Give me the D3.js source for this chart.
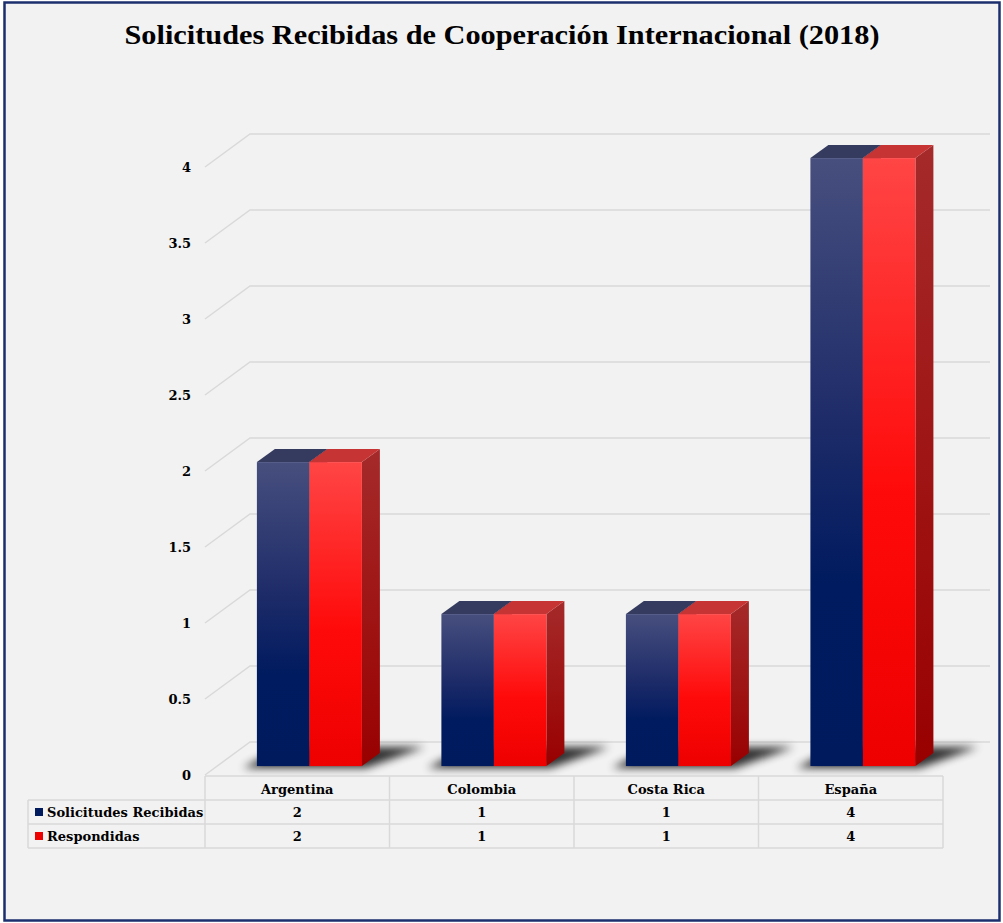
<!DOCTYPE html>
<html>
<head>
<meta charset="utf-8">
<script src="https://cdn.jsdelivr.net/npm/d3@7"></script>
<style>
  body { margin: 0; background: #ffffff; }
  svg { display: block; font-family: 'DejaVu Serif', 'Liberation Serif', serif; }
</style>
</head>
<body>
<div id="chart"></div>
<script>
const categories = ['Argentina', 'Colombia', 'Costa Rica', 'España'];
const solicitudes = [2, 1, 1, 4];
const respondidas = [2, 1, 1, 4];
const seriesNames = ['Solicitudes Recibidas', 'Respondidas'];
const yTicks = [0, 0.5, 1, 1.5, 2, 2.5, 3, 3.5, 4];
const title = 'Solicitudes Recibidas de Cooperación Internacional (2018)';

const W = 1003, H = 923;
const plot = {left: 205, right: 943, top: 167, bottom: 775};
const depth = {dx: 45, dy: -33};   // floor / wall depth
const barDepth = {t0: 0.27, t1: 0.67}; // bar position within depth
const barW = 52.5;

const svg = d3.select('#chart').append('svg')
  .attr('width', W).attr('height', H);

const defs = svg.append('defs');

const gBlue = defs.append('linearGradient').attr('id', 'gBlue')
  .attr('x1', 0).attr('y1', 0).attr('x2', 0).attr('y2', 1);
gBlue.append('stop').attr('offset', '0%').attr('stop-color', '#474f7e');
gBlue.append('stop').attr('offset', '45%').attr('stop-color', '#1c2a68');
gBlue.append('stop').attr('offset', '70%').attr('stop-color', '#001b5f');
gBlue.append('stop').attr('offset', '100%').attr('stop-color', '#001a5e');

const gRed = defs.append('linearGradient').attr('id', 'gRed')
  .attr('x1', 0).attr('y1', 0).attr('x2', 0).attr('y2', 1);
gRed.append('stop').attr('offset', '0%').attr('stop-color', '#ff4545');
gRed.append('stop').attr('offset', '55%').attr('stop-color', '#ff0a0a');
gRed.append('stop').attr('offset', '100%').attr('stop-color', '#ee0000');

const gRedSide = defs.append('linearGradient').attr('id', 'gRedSide')
  .attr('x1', 0).attr('y1', 0).attr('x2', 0).attr('y2', 1);
gRedSide.append('stop').attr('offset', '0%').attr('stop-color', '#a52a2a');
gRedSide.append('stop').attr('offset', '100%').attr('stop-color', '#990000');

defs.append('filter').attr('id', 'blur')
  .attr('x', '-50%').attr('y', '-50%').attr('width', '200%').attr('height', '200%')
  .append('feGaussianBlur').attr('stdDeviation', 4);

// background + border
svg.append('rect')
  .attr('x', 4.5).attr('y', 2.5).attr('width', 995).attr('height', 918)
  .attr('fill', '#f2f2f2').attr('stroke', '#1b2f6e').attr('stroke-width', 2.5);

// title
svg.append('text')
  .attr('x', 502).attr('y', 44)
  .attr('text-anchor', 'middle')
  .attr('textLength', 755).attr('lengthAdjust', 'spacingAndGlyphs')
  .style('font-family', "'Liberation Serif', serif")
  .style('font-size', '28px').style('font-weight', 'bold').style('fill', '#000')
  .text(title);

const x = d3.scaleBand().domain(categories).range([plot.left, plot.right]);
const y = d3.scaleLinear().domain([0, 4]).range([plot.bottom, plot.top]);

// gridlines (back wall + left diagonal)
const grid = svg.append('g').attr('stroke', '#d9d9d9').attr('stroke-width', 1.5).attr('fill', 'none');
yTicks.forEach((v) => {
  const fy = y(v);
  grid.append('path')
    .attr('d', `M${plot.left},${fy} L${plot.left + depth.dx},${fy + depth.dy} L${990},${fy + depth.dy}`);
});

// y axis labels
svg.append('g').selectAll('text').data(yTicks).join('text')
  .attr('x', 191).attr('y', (d) => y(d) + 5)
  .attr('text-anchor', 'end')
  .style('font-size', '13px').style('font-weight', 'bold')
  .text((d) => d);

// bars
const data = categories.map((c, i) => ({cat: c, vals: [solicitudes[i], respondidas[i]]}));
const sx0 = depth.dx * barDepth.t0, sy0 = depth.dy * barDepth.t0;
const bdx = depth.dx * (barDepth.t1 - barDepth.t0), bdy = depth.dy * (barDepth.t1 - barDepth.t0);

const bars = svg.append('g');
data.forEach((d) => {
  const cx = x(d.cat) + x.bandwidth() / 2 + sx0;
  const base = y(0) + sy0;
  const left = cx - barW;
  const right = cx + barW;
  // shadow on floor
  bars.append('path')
    .attr('d', `M${left - 14},${base + 2} L${right + 4},${base + 2} L${right + bdx + 45},${base + bdy - 6} L${left + bdx + 8},${base + bdy - 6} Z`)
    .attr('fill', '#000').attr('opacity', 0.8).attr('filter', 'url(#blur)');

  d.vals.forEach((v, j) => {
    const x0 = cx - barW + j * barW;
    const x1 = x0 + barW;
    const top = y(v) + sy0;
    const isRed = j === 1;
    // side face
    bars.append('path')
      .attr('d', `M${x1},${base} L${x1},${top} L${x1 + bdx},${top + bdy} L${x1 + bdx},${base + bdy} Z`)
      .attr('fill', isRed ? 'url(#gRedSide)' : '#1a2250');
    // top face
    bars.append('path')
      .attr('d', `M${x0},${top} L${x1},${top} L${x1 + bdx},${top + bdy} L${x0 + bdx},${top + bdy} Z`)
      .attr('fill', isRed ? '#c63434' : '#343b5e');
    // front face
    bars.append('rect')
      .attr('x', x0).attr('y', top).attr('width', barW).attr('height', base - top)
      .attr('fill', isRed ? 'url(#gRed)' : 'url(#gBlue)');
  });
});

// data table
const rowTop = 776, rowH = 24;
const tbl = svg.append('g').attr('stroke', '#d9d9d9').attr('stroke-width', 1.5).attr('fill', 'none');
const colEdges = categories.map((c) => x(c)).concat([plot.right]);
const legendLeft = 28;
tbl.append('line').attr('x1', plot.left).attr('x2', plot.right).attr('y1', rowTop).attr('y2', rowTop);
[1, 2, 3].forEach((r) => {
  tbl.append('line').attr('x1', legendLeft).attr('x2', plot.right)
    .attr('y1', rowTop + r * rowH).attr('y2', rowTop + r * rowH);
});
colEdges.forEach((cx) => {
  tbl.append('line').attr('x1', cx).attr('x2', cx).attr('y1', rowTop).attr('y2', rowTop + 3 * rowH);
});
tbl.append('line').attr('x1', legendLeft).attr('x2', legendLeft)
  .attr('y1', rowTop + rowH).attr('y2', rowTop + 3 * rowH);

const txt = svg.append('g').style('font-size', '13px').style('font-weight', 'bold').attr('fill', '#000');
txt.selectAll('.cat').data(categories).join('text')
  .attr('class', 'cat')
  .attr('x', (d) => x(d) + x.bandwidth() / 2).attr('y', rowTop + 18)
  .attr('text-anchor', 'middle').text((d) => d);

const seriesVals = [solicitudes, respondidas];
const seriesColors = ['#001a5e', '#ee0000'];
seriesVals.forEach((vals, r) => {
  const yy = rowTop + (r + 1) * rowH + 17;
  txt.selectAll(`.v${r}`).data(vals).join('text')
    .attr('class', `v${r}`)
    .attr('x', (d, i) => x(categories[i]) + x.bandwidth() / 2).attr('y', yy)
    .attr('text-anchor', 'middle').text((d) => d);
  svg.append('rect')
    .attr('x', 35).attr('y', yy - 9).attr('width', 8).attr('height', 8)
    .attr('fill', seriesColors[r]);
  txt.append('text').attr('x', 47).attr('y', yy).text(seriesNames[r]);
});
</script>
</body>
</html>
